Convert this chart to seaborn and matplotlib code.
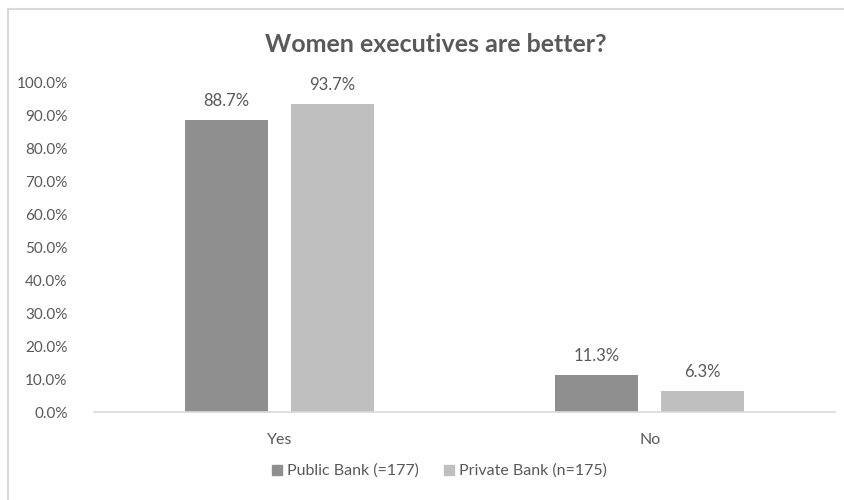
import matplotlib
matplotlib.use("Agg")
import matplotlib.pyplot as plt
import seaborn as sns
import pandas as pd
from matplotlib.lines import Line2D

categories = ["Yes", "No"]
series_names = ["Public Bank (=177)", "Private Bank (n=175)"]
public_values = [0.887, 0.113]
private_values = [0.937, 0.063]
y_ticks = [0.0, 0.1, 0.2, 0.3, 0.4, 0.5, 0.6, 0.7, 0.8, 0.9, 1.0]
title = "Women executives are better?"

colors = ["#8F8F8F", "#BFBFBF"]
text_color = "#595959"

sns.set_theme(style="white")
plt.rcParams['font.family'] = ['Lato', 'DejaVu Sans']

df = pd.DataFrame({
    "category": categories * 2,
    "series": [series_names[0]] * 2 + [series_names[1]] * 2,
    "value": public_values + private_values,
})

fig = plt.figure(figsize=(8.44, 5.0), dpi=100)
ax = fig.add_axes([94/844, 1-412/500, (835-94)/844, (412-83)/500])

sns.barplot(data=df, x="category", y="value", hue="series", order=categories,
            hue_order=series_names, palette=colors, width=0.57, gap=0.214,
            ax=ax, legend=False, saturation=1, edgecolor="none")

ax.set_xlim(-0.5, 1.5)
ax.set_ylim(0, 1.0)
ax.set_yticks(y_ticks)
ax.set_yticklabels([f"{t*100:.1f}%" for t in y_ticks], color=text_color, fontsize=11)
ax.set_xticks(range(len(categories)))
ax.set_xticklabels(categories, color=text_color, fontsize=11.5)
ax.tick_params(axis="y", length=0, pad=19)
ax.tick_params(axis="x", length=0, pad=15)
ax.set_xlabel("")
ax.set_ylabel("")
for s in ["top", "right", "left"]:
    ax.spines[s].set_visible(False)
ax.spines["bottom"].set_color("#D9D9D9")
ax.spines["bottom"].set_linewidth(1.2)
ax.grid(False)

for container in ax.containers:
    ax.bar_label(container, labels=[f"{v.get_height()*100:.1f}%" for v in container],
                 padding=8, color=text_color, fontsize=12)

fig.text(436/844, 1-45/500, title, ha="center", va="center", fontsize=18,
         fontweight="bold", color=text_color)

handles = [Line2D([0], [0], marker="s", linestyle="none", markersize=6.5,
                  markerfacecolor=c, markeredgecolor=c) for c in colors]
fig.legend(handles, series_names, loc="center", bbox_to_anchor=(438/844, 1-471/500),
           ncol=2, frameon=False, fontsize=11.5, labelcolor=text_color,
           handletextpad=0.1, columnspacing=1.4, handlelength=1.0)

# outer chart frame (top and left edges visible in the crop)
fig.add_artist(Line2D([8/844, 1.0], [1-9/500, 1-9/500], transform=fig.transFigure,
                      color="#D9D9D9", linewidth=1.5))
fig.add_artist(Line2D([8/844, 8/844], [0.0, 1-9/500], transform=fig.transFigure,
                      color="#D9D9D9", linewidth=1.5))

fig.savefig("out.png", dpi=100)
